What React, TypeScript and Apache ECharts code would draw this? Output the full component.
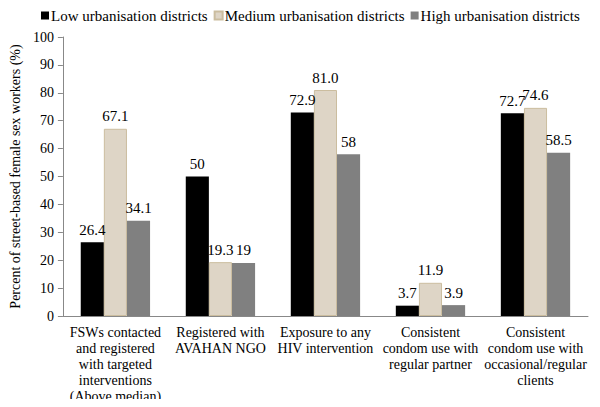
import React, { useEffect, useRef } from "react";
import * as echarts from "echarts";

const categories = [
  "FSWs contacted\nand registered\nwith targeted\ninterventions\n(Above median)",
  "Registered with\nAVAHAN NGO",
  "Exposure to any\nHIV intervention",
  "Consistent\ncondom use with\nregular partner",
  "Consistent\ncondom use with\noccasional/regular\nclients",
];
const seriesNames = [
  "Low urbanisation districts",
  "Medium urbanisation districts",
  "High urbanisation districts",
];
const lowValues = [26.4, 50, 72.9, 3.7, 72.7];
const mediumValues = [67.1, 19.3, 81.0, 11.9, 74.6];
const highValues = [34.1, 19, 58, 3.9, 58.5];
const lowLabels = ["26.4", "50", "72.9", "3.7", "72.7"];
const mediumLabels = ["67.1", "19.3", "81.0", "11.9", "74.6"];
const highLabels = ["34.1", "19", "58", "3.9", "58.5"];
const yTicks = [0, 10, 20, 30, 40, 50, 60, 70, 80, 90, 100];

const FONT = "Liberation Serif";

export default function App() {
  const ref = useRef<HTMLDivElement>(null);
  useEffect(() => {
    if (!ref.current) return;
    const chart = echarts.init(ref.current, undefined, { renderer: "svg" });
    const mk = (
      name: string,
      values: number[],
      labels: string[],
      color: string,
      border?: string
    ) => ({
      name,
      type: "bar",
      data: values,
      barGap: "0%",
      barCategoryGap: "34%",
      itemStyle: border
        ? { color, borderColor: border, borderWidth: 1 }
        : { color },
      label: {
        show: true,
        position: "top",
        distance: 5,
        fontFamily: FONT,
        fontSize: 15,
        color: "#000",
        formatter: (p: any) => labels[p.dataIndex],
      },
    });
    chart.setOption({
      animation: false,
      legend: {
        top: 3,
        left: 36,
        itemWidth: 8,
        itemHeight: 8,
        itemGap: 6,
        icon: "rect",
        textStyle: { fontFamily: FONT, fontSize: 15, color: "#000", padding: [0, 0, 0, -3] },
        data: seriesNames,
      },
      grid: { left: 58, right: 12, top: 37, bottom: 91, containLabel: false },
      xAxis: {
        type: "category",
        data: categories,
        axisLine: { lineStyle: { color: "#888", width: 1 } },
        axisTick: { show: false },
        axisLabel: {
          interval: 0,
          color: "#000",
          fontFamily: FONT,
          fontSize: 14,
          lineHeight: 16,
          margin: 8,
        },
      },
      yAxis: {
        type: "value",
        min: yTicks[0],
        max: yTicks[yTicks.length - 1],
        interval: 10,
        name: "Percent of street-based female sex workers (%)",
        nameLocation: "middle",
        nameGap: 40,
        nameTextStyle: { fontFamily: FONT, fontSize: 14, color: "#000" },
        axisLine: { show: true, lineStyle: { color: "#888", width: 1 } },
        axisTick: { show: true, length: 5, lineStyle: { color: "#888" } },
        splitLine: { show: false },
        axisLabel: { color: "#000", fontFamily: FONT, fontSize: 14, margin: 9 },
      },
      series: [
        mk(seriesNames[0], lowValues, lowLabels, "#000000"),
        mk(seriesNames[1], mediumValues, mediumLabels, "#ded5c6", "#cbbd9f"),
        mk(seriesNames[2], highValues, highLabels, "#808080"),
      ],
    });
    return () => chart.dispose();
  }, []);
  return <div ref={ref} style={{ width: 600, height: 407, margin: -8 }} />;
}
